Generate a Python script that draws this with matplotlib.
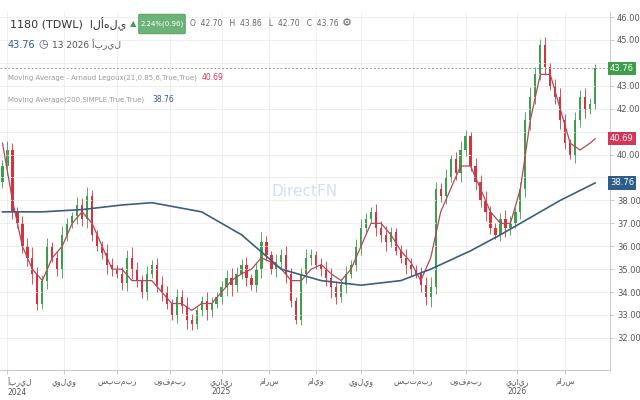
import matplotlib
matplotlib.use("Agg")
import matplotlib.pyplot as plt
from matplotlib.patches import FancyBboxPatch
import numpy as np

plt.rcParams['font.family'] = ['DejaVu Sans']

closes = [39.5,40.2,37.5,37,36,35.5,34.8,33.5,34.5,36,35.5,35,36.5,37,37.3,37.8,37.2,38.2,36.5,36,
35.7,35.2,35,34.8,34.4,35.5,35,34.5,34,34.8,35.2,34.3,34,33.5,33,33.8,33.4,32.8,32.6,33.2,
33.6,33.2,33.5,33.8,34.2,34.6,34.3,34.8,35.2,34.6,34.3,35,36.2,35.6,35,35.3,35.6,34.8,33.6,32.8,
34.8,35.5,35.6,35.2,35,34.6,34.2,33.8,34.3,34.8,35.2,36,36.8,37.2,37.5,36.8,36.5,36.2,36.6,35.8,
35.5,35.2,35,34.8,34.3,33.8,34.2,38.5,38.2,39,39.8,39.2,40.2,40.8,39.5,38.8,38,37.5,36.8,36.5,
37.2,36.8,37,37.5,38.5,41.5,42.5,43.5,44.8,43.8,43,42.5,41.5,40.5,40,41.5,42.5,42,42.2,43.76]
first_open = 38.8
wick = [0.25,0.4,0.3,0.2,0.3,0.35,0.45,0.3,0.25,0.35,0.2,0.3,0.4,0.25,0.2,0.35,0.3,0.4,0.25,0.2]

alma_px = [0,10,20,30,40,50,60,70,80,90,100,110,120,130,140,150,160,170,180,190,200,210,220,230,240,250,260,270,280,290,300,310,320,330,340,350,360,370,380,390,400,410,420,430,440,450,460,470,480,490,500,510,520,530,540,550,560,570,580,590,595]
alma = [40.5,38,36,35,34.5,35.5,36,37,37.5,37,36,35,35,34.5,34.5,34.5,34,33.5,33.5,33.2,33.5,33.5,34,34.5,34.8,35,35.5,35.3,35,34.5,34.5,35,35.2,34.8,34.5,35,36,37,37,36.5,35.8,35.3,34.5,35.5,37.5,38.5,39.5,39.5,38.5,37.5,37,37,38.5,41.5,43.5,43.5,42,40.5,40.2,40.5,40.69]
ma_px = [0,40,80,120,150,200,240,280,320,360,400,430,470,500,540,560,595]
ma200 = [37.5,37.5,37.6,37.8,37.9,37.5,36.5,35,34.5,34.3,34.5,35,35.8,36.5,37.5,38,38.76]

tick_px = [5,62,115,168,220,268,315,360,412,465,517,565]
tick_labels = ['أبريل\n2024','يوليو','سبتمبر','نوفمبر','يناير\n2025','مارس','مايو','يوليو','سبتمبر','نوفمبر','يناير\n2026','مارس']
y_ticks = list(range(32, 47))
hidden_y = [44, 41, 39]

fig = plt.figure(figsize=(6.4,4), dpi=100)
ax = fig.add_axes([0, 30/400, 610/640, 358/400])
n = len(closes)
opens = [first_open] + closes[:-1]
for i in range(n):
    o, c = opens[i], closes[i]
    col = '#3f9e4a' if c >= o else '#d8333a'
    w = wick[i % len(wick)]
    ax.vlines(i, min(o,c)-w, max(o,c)+w, color=col, lw=0.6)
    ax.bar(i, max(abs(c-o),0.05), bottom=min(o,c), width=0.45, color=col)
ax.plot(np.array(alma_px)/5, alma, color='#b5475d', lw=0.9)
ax.plot(np.array(ma_px)/5, ma200, color='#3b5f80', lw=1.2)
ax.axhline(43.76, color='#999999', lw=0.7, ls=(0,(2,2)))
ax.set_xlim(-0.5, 122)
ax.set_ylim(30.6, 46.22)
ax.yaxis.tick_right()
ax.set_yticks(y_ticks)
ax.set_yticklabels(['' if v in hidden_y else f'{v:.2f}' for v in y_ticks], fontsize=6, color='#555555')
ax.set_xticks(np.array(tick_px)/5)
ax.set_xticklabels(tick_labels, fontsize=5.5, color='#555555')
ax.get_xticklabels()[0].set_ha('left')
ax.grid(color='#ececec', lw=0.6)
for s in ['top','left']:
    ax.spines[s].set_visible(False)
for s in ['right','bottom']:
    ax.spines[s].set_color('#cccccc')
ax.tick_params(length=3, color='#cccccc', pad=2)
for val, col in [(43.76,'#3f9e4a'),(40.69,'#d4365a'),(38.76,'#2e5d8a')]:
    ax.text(1.0, val, f'{val:.2f}', transform=ax.get_yaxis_transform(), fontsize=6,
            color='white', va='center', ha='left',
            bbox=dict(boxstyle='square,pad=0.25', fc=col, ec='none'))
ax.text(0.5, 0.5, 'DirectFN', transform=ax.transAxes, fontsize=11, color='#c9d8ea',
        ha='center', va='center', alpha=0.8)

fig.text(10/640, 1-24/400, '1180 (TDWL)  الأهلي', fontsize=8, color='#333333', va='center')
fig.text(130/640, 1-24/400, '▲', fontsize=6, color='#3f9e4a', va='center')
fig.patches.append(FancyBboxPatch((140/640, 1-33/400), 44/640, 18/400, boxstyle='round,pad=0.002',
                    transform=fig.transFigure, fc='#6cb37a', ec='#4c9a5c', lw=0.6))
fig.text(162/640, 1-24/400, '2.24%(0.96)', fontsize=5, color='white', ha='center', va='center')
fig.text(190/640, 1-24/400, 'O  42.70   H  43.86   L  42.70   C  43.76', fontsize=5.5, color='#666666', va='center')
fig.text(342/640, 1-23/400, '⚙', fontsize=8, color='#666666', va='center')
fig.text(8/640, 1-45/400, '43.76', fontsize=7, color='#2e5d8a', va='center')
fig.text(38/640, 1-44/400, '◷', fontsize=8, color='#555555', va='center')
fig.text(52/640, 1-45/400, '13 2026 أبريل', fontsize=6.5, color='#555555', va='center')
fig.text(8/640, 1-78/400, 'Moving Average - Arnaud Legoux(21,0.85,6,True,True)', fontsize=5, color='#999999', va='center')
fig.text(202/640, 1-78/400, '40.69', fontsize=5.5, color='#d4365a', va='center')
fig.text(8/640, 1-100/400, 'Moving Average(200,SIMPLE,True,True)', fontsize=5, color='#999999', va='center')
fig.text(152/640, 1-100/400, '38.76', fontsize=5.5, color='#2e5d8a', va='center')
fig.savefig('out.png', dpi=100, facecolor='white')
